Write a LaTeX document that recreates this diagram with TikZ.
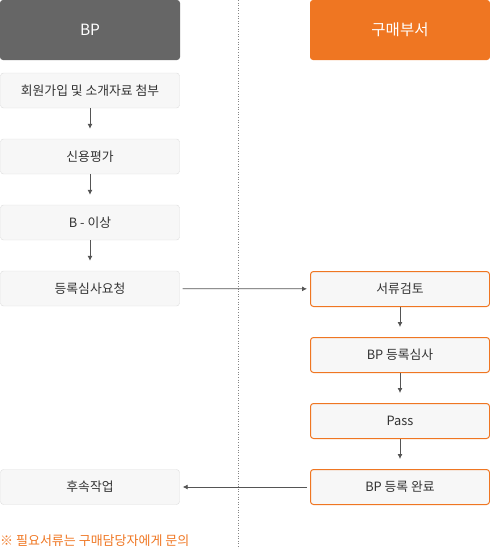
\documentclass[tikz,border=0pt]{standalone}
\usepackage{fontspec}
\setmainfont{Noto Sans CJK KR}
\usetikzlibrary{arrows.meta}
\definecolor{bpgray}{HTML}{666666}
\definecolor{buyorange}{HTML}{EF7622}
\definecolor{boxline}{HTML}{DDDDDD}
\definecolor{boxfill}{HTML}{F7F7F7}
\definecolor{txt}{HTML}{333333}
\definecolor{arr}{HTML}{555555}
\tikzset{
	head/.style={rounded corners=3pt, minimum width=180pt, minimum height=60pt, text=white, font=\fontsize{15.5}{18}\selectfont, inner sep=0pt},
	bpbox/.style={draw=boxline, fill=boxfill, rounded corners=3pt, minimum width=179pt, minimum height=35pt, text=txt, font=\fontsize{12.8}{15}\selectfont, inner sep=0pt},
	buybox/.style={bpbox, draw=buyorange, line width=1pt},
	flow/.style={draw=arr, line width=0.8pt, -{Latex[length=5pt,width=5pt]}}
}
\begin{document}
\begin{tikzpicture}[x=1pt,y=-1pt]
	\def \lx{ 90 };
	\def \rx{ 400 };
	\def \ver{ 66 };
	\useasboundingbox (0,0) rectangle (490,549);
	% lanes
	\draw[boxline!60!black, dotted, line width=0.6pt] (238.5,0) -- (238.5,549);
	\node[head, fill=bpgray] (bp) at (\lx,30) {BP};
	\node[head, fill=buyorange] (buy) at (400,30) {구매부서};
	% BP side
	\node[bpbox] (join) at (\lx,90.5+0*\ver) {회원가입 및 소개자료 첨부};
	\node[bpbox] (credit) at (\lx,90.5+1*\ver) {신용평가};
	\node[bpbox] (grade) at (\lx,90.5+2*\ver) {B - 이상};
	\node[bpbox] (request) at (\lx,90.5+3*\ver) {등록심사요청};
	\node[bpbox] (follow) at (\lx,487) {후속작업};
	% purchasing side
	\node[buybox] (review) at (\rx,289) {서류검토};
	\node[buybox] (audit) at (\rx,289+1*\ver) {BP 등록심사};
	\node[buybox] (pass) at (\rx,289+2*\ver) {Pass};
	\node[buybox] (done) at (\rx,289+3*\ver) {BP 등록 완료};
	% arrows
	\draw[flow, shorten >= 10pt] (join) -- (credit);
	\draw[flow, shorten >= 10pt] (credit) -- (grade);
	\draw[flow, shorten >= 10pt] (grade) -- (request);
	\draw[flow, shorten <= 3pt, shorten >= 3pt] (request) -- (review);
	\draw[flow, shorten >= 10pt] (review) -- (audit);
	\draw[flow, shorten >= 10pt] (audit) -- (pass);
	\draw[flow, shorten >= 10pt] (pass) -- (done);
	\draw[flow, shorten <= 3pt, shorten >= 3pt] (done) -- (follow);
	% note
	\node[anchor=west, inner sep=0pt, text=buyorange, font=\fontsize{13}{15}\selectfont] (note) at (0,541) {※ 필요서류는 구매담당자에게 문의};
\end{tikzpicture}
\end{document}
